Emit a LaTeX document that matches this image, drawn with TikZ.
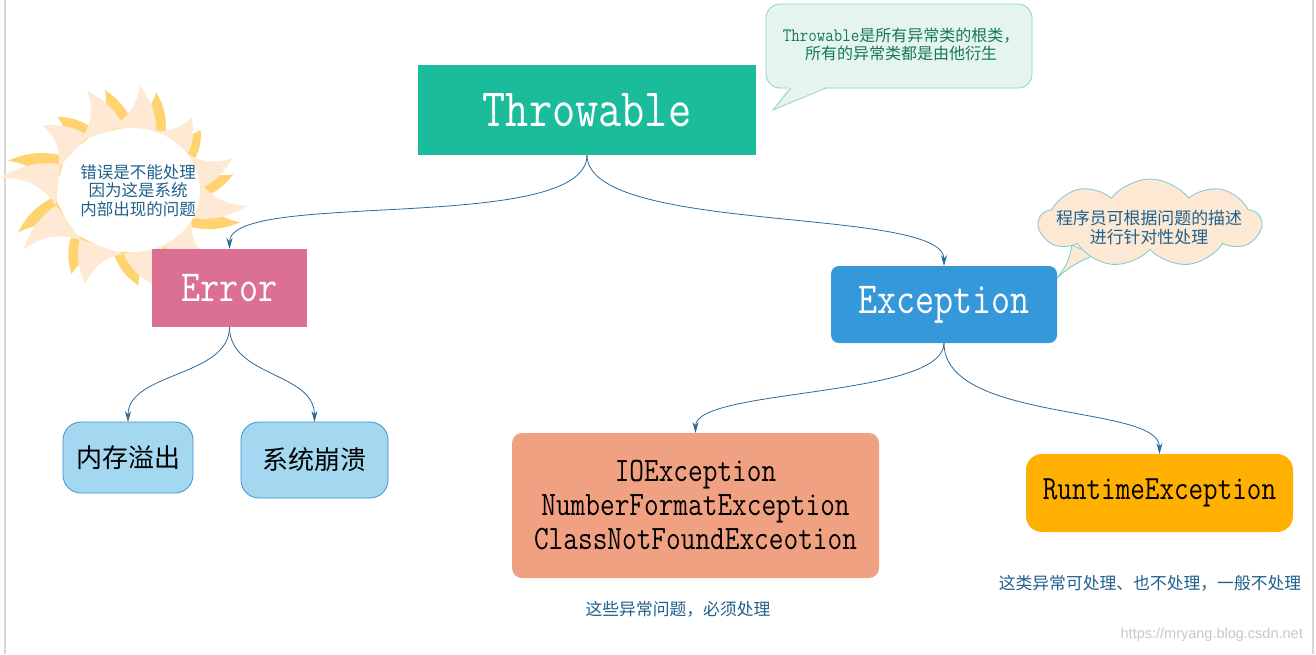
\documentclass[tikz,border=0pt]{standalone}
\usepackage{fontspec}
\usepackage{graphicx}
\newfontfamily\cjk{Noto Sans CJK SC}
\newfontfamily\wmfont{Liberation Sans}
\usetikzlibrary{arrows.meta,shapes.symbols}
\definecolor{cThr}{RGB}{27,188,155}
\definecolor{cErr}{RGB}{220,112,148}
\definecolor{cExc}{RGB}{52,152,219}
\definecolor{cLB}{RGB}{163,216,240}
\definecolor{cLBb}{RGB}{60,145,210}
\definecolor{cIO}{RGB}{240,161,130}
\definecolor{cRt}{RGB}{255,176,0}
\definecolor{cArr}{RGB}{42,106,155}
\definecolor{cTxt}{RGB}{31,97,141}
\definecolor{cCo}{RGB}{230,244,238}
\definecolor{cCob}{RGB}{140,214,186}
\definecolor{cCoT}{RGB}{20,120,90}
\definecolor{cCl}{RGB}{252,232,211}
\definecolor{cClb}{RGB}{120,205,205}
\definecolor{cPe}{RGB}{253,233,212}
\definecolor{cYe}{RGB}{255,212,112}
\definecolor{cGr}{RGB}{215,215,215}
\definecolor{cWm}{RGB}{200,200,200}
\newcommand\tall[1]{\scalebox{1}[1.2]{#1}}
\begin{document}
\begin{tikzpicture}[x=1pt,y=-1pt,
  box/.style={inner sep=0pt, outer sep=0pt},
  conn/.style={draw=cArr, line width=0.8pt, -{Stealth[length=11pt,width=6pt]}},
  note/.style={text=cTxt, font=\cjk\fontsize{16.5}{18.5}\selectfont, align=center, inner sep=0pt},
  mono/.style={font=\ttfamily\fontsize{#1}{#1}\selectfont}
]
% canvas
\fill[white] (0,0) rectangle (1316,654);
\useasboundingbox (0,0) rectangle (1316,654);
\draw[cGr, line width=1.2pt] (5,0) -- (5,654);
\draw[cGr, line width=1.2pt] (1313,0) -- (1313,654);

% explosion
\begin{scope}[shift={(126,190)}]
  \foreach \a/\r in {-83/113,-50/102,-18/112,8/123,42/106,74/107,112/109,148/121,186/126,220/108,250/113}{
    \pgfmathsetmacro\rx{\r*0.97}
    \pgfmathsetmacro\ry{\r*0.9}
    \fill[cYe] ({\a-10}:72 and 64) to[bend right=28] ({\a+9}:{\rx} and {\ry}) to[bend left=18] ({\a+26}:72 and 64) -- cycle;
  }
  \foreach \a/\r in {-83/113,-50/102,-18/112,8/123,42/106,74/107,112/109,148/121,186/126,220/108,250/113}{
    \pgfmathsetmacro\ry{\r*0.93}
    \fill[cPe] ({\a-20}:72 and 64) to[bend right=28] ({\a}:{\r} and {\ry}) to[bend left=18] ({\a+18}:72 and 64) -- cycle;
  }
  \fill[white] (6,0) ellipse (68 and 62);
\end{scope}
\node[note] (errnote) at (138,190.5) {错误是不能处理\\因为这是系统\\内部出现的问题};

% Throwable callout
\path[fill=cCo, draw=cCob, line width=0.8pt, rounded corners=14pt] (766,4) rectangle (1032,88);
\fill[cCo] (789,86) -- (827,86) -- (773,110) -- cycle;
\draw[cCob, line width=0.8pt] (791,88) -- (773,110) -- (826,88);
\node[align=center, inner sep=0pt, text=cCoT, font=\cjk\fontsize{16}{18}\selectfont] (thrnote) at (901,44)
  {{\ttfamily\fontsize{16.5}{18}\selectfont\scalebox{1}[1.15]{Throwable}}是所有异常类的根类，\\所有的异常类都是由他衍生};

% cloud callout
\filldraw[fill=cCl, draw=cClb, line width=0.8pt] (1072,245) to[bend left=15] (1057,278) to[bend left=10] (1095,255) -- cycle;
\node[cloud, cloud puffs=9, cloud puff arc=105, aspect=2.5, fill=cCl, draw=cClb, line width=0.8pt,
      minimum width=222pt, minimum height=88pt, inner sep=0pt] (cl) at (1150,223) {};
\node[note, font=\cjk\fontsize{16.9}{19}\selectfont] (clnote) at (1149,227.5) {程序员可根据问题的描述\\进行针对性处理};

% boxes
\node[box, fill=cThr, minimum width=338pt, minimum height=90pt, text=white, mono=45] (thr) at (587,110) {\tall{Throwable}};
\node[box, fill=cErr, minimum width=155pt, minimum height=78pt, text=white, mono=37] (err) at (229.5,288) {\tall{Error}};
\node[box, fill=cExc, rounded corners=8pt, minimum width=226pt, minimum height=77pt, text=white, mono=37] (exc) at (944,304.5) {\tall{Exception}};
\node[box, fill=cLB, draw=cLBb, line width=0.8pt, rounded corners=18pt, minimum width=130pt, minimum height=71pt, font=\cjk\fontsize{26}{26}\selectfont] (mem) at (128,457.5) {内存溢出};
\node[box, fill=cLB, draw=cLBb, line width=0.8pt, rounded corners=18pt, minimum width=147pt, minimum height=76pt, font=\cjk\fontsize{26}{26}\selectfont] (sys) at (314.5,460) {系统崩溃};
\node[box, fill=cIO, rounded corners=10pt, minimum width=367pt, minimum height=145pt, align=center, font=\ttfamily\fontsize{28.5}{34}\selectfont] (io) at (695.5,505.5)
  {\tall{IOException}\\\tall{NumberFormatException}\\\tall{ClassNotFoundExceotion}};
\node[box, fill=cRt, rounded corners=16pt, minimum width=267pt, minimum height=78pt, mono=28.3] (rt) at (1159.5,493) {\tall{RuntimeException}};

% connectors
\draw[conn] (thr.south) .. controls +(0,80) and +(0,-60) .. (err.north);
\draw[conn] (thr.south) .. controls +(0,80) and +(0,-60) .. (exc.north);
\draw[conn] (err.south) .. controls +(0,50) and +(0,-50) .. (mem.north);
\draw[conn] (err.south) .. controls +(0,50) and +(0,-50) .. (sys.north);
\draw[conn] (exc.south) .. controls +(0,55) and +(0,-45) .. (io.north);
\draw[conn] (exc.south) .. controls +(0,80) and +(0,-50) .. (rt.north);

% captions
\node[note, font=\cjk\fontsize{16.8}{18}\selectfont] (cap1) at (678,609) {这些异常问题，必须处理};
\node[note, font=\cjk\fontsize{16.8}{18}\selectfont] (cap2) at (1150,583) {这类异常可处理、也不处理，一般不处理};
\node[anchor=east, inner sep=0pt, text=cWm, font=\wmfont\fontsize{14.5}{16}\selectfont] (wm) at (1303,635) {https://mryang.blog.csdn.net};
\end{tikzpicture}
\end{document}
